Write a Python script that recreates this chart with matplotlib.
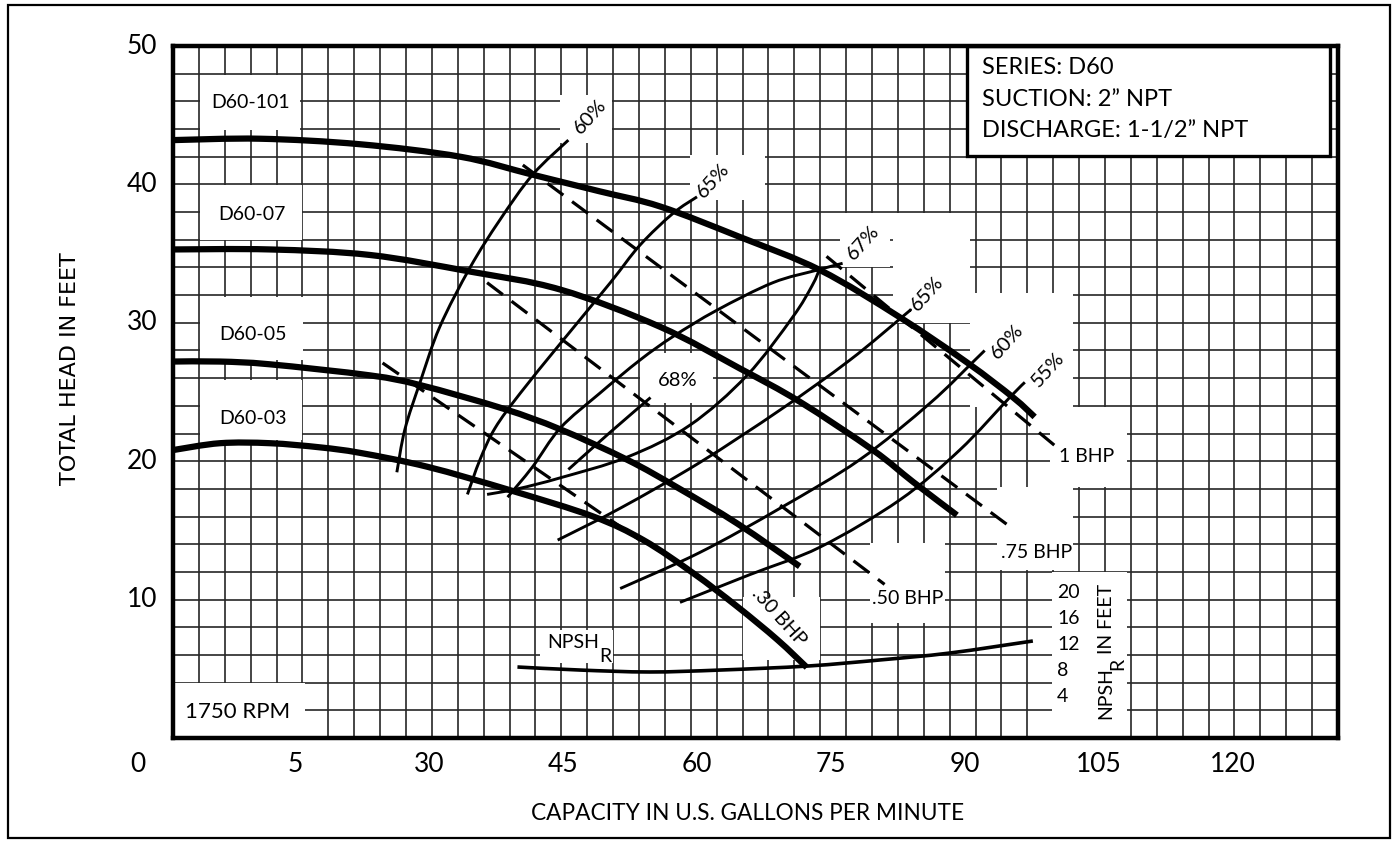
import matplotlib
matplotlib.use("Agg")
import matplotlib.pyplot as plt
from matplotlib.patches import Rectangle, PathPatch
from matplotlib.path import Path
import numpy as np

# ---------------- data (capacity in gpm, head in feet) ----------------
d60_101_q = [1.3, 11.1, 22.3, 33.5, 41.6, 49.1, 55.9, 64.8, 73.8, 82.7, 90.3, 95.4, 97.8]
d60_101_h = [43.2, 43.3, 42.9, 42.0, 40.7, 39.5, 38.4, 36.2, 33.8, 30.4, 27.1, 24.6, 23.2]

d60_07_q = [1.3, 12.2, 23.4, 34.6, 44.7, 55.9, 64.8, 71.5, 79.7, 84.2, 89.1]
d60_07_h = [35.3, 35.3, 34.9, 33.7, 32.4, 29.7, 26.7, 24.3, 20.8, 18.5, 16.1]

d60_05_q = [1.3, 6.6, 12.2, 23.4, 29.0, 38.3, 44.7, 52.2, 57.8, 64.5, 71.5]
d60_05_h = [27.2, 27.2, 27.0, 26.2, 25.5, 23.8, 22.3, 20.1, 18.1, 15.5, 12.4]

d60_03_q = [1.3, 6.6, 12.2, 17.8, 22.3, 29.8, 39.1, 48.4, 54.0, 59.6, 64.5, 69.0, 72.3]
d60_03_h = [20.8, 21.3, 21.3, 21.0, 20.6, 19.6, 17.9, 16.0, 14.3, 11.9, 9.5, 7.1, 5.1]

eff60l_q = [26.4, 27.3, 29.0, 31.2, 34.6, 37.9, 41.6, 45.6]
eff60l_h = [19.2, 22.3, 25.7, 29.7, 34.0, 37.4, 40.7, 43.2]

eff65l_q = [34.3, 35.7, 37.4, 40.2, 44.7, 50.3, 53.6, 57.3, 60.0]
eff65l_h = [17.6, 20.1, 22.4, 24.9, 28.5, 32.9, 35.6, 37.9, 39.1]

eff67a_q = [38.8, 41.6, 44.7, 49.1, 53.6, 57.3, 62.2, 68.5, 73.4, 76.3]
eff67a_h = [17.4, 19.6, 22.4, 24.9, 27.3, 29.0, 30.9, 32.9, 33.8, 34.3]

eff67b_q = [36.5, 39.9, 44.7, 52.2, 59.2, 65.6, 70.7, 72.9, 73.8]
eff67b_h = [17.6, 18.0, 18.8, 20.3, 22.6, 26.2, 30.4, 32.7, 34.0]

eff68_q = [45.6, 50.3, 54.8]
eff68_h = [19.4, 22.1, 24.6]

eff65r_q = [44.4, 51.4, 60.3, 69.3, 77.1, 83.3, 83.8]
eff65r_h = [14.3, 16.6, 19.9, 23.7, 27.3, 30.6, 30.9]

eff60r_q = [51.4, 60.3, 69.3, 78.2, 86.1, 91.1, 92.2]
eff60r_h = [10.8, 13.4, 16.6, 20.1, 24.2, 27.3, 28.0]

eff55_q = [58.1, 65.9, 73.8, 82.7, 89.4, 95.0, 96.7]
eff55_h = [9.8, 11.8, 13.8, 17.2, 20.8, 24.6, 25.7]

bhp30_q = [24.8, 53.6]
bhp30_h = [27.1, 14.3]
bhp50_q = [36.5, 81.0]
bhp50_h = [32.9, 11.1]
bhp75_q = [40.5, 95.6]
bhp75_h = [41.4, 15.0]
bhp1_q = [74.5, 100.3]
bhp1_h = [34.8, 21.0]

npsh_q = [39.9, 46.9, 54.7, 62.6, 72.4, 80.5, 88.3, 97.6]
npsh_h = [5.13, 4.91, 4.77, 4.91, 5.20, 5.64, 6.14, 7.01]

x_tick_pos = [-2.6, 15, 30, 45, 60, 75, 90, 105, 120]
x_tick_lbl = ["0", "5", "30", "45", "60", "75", "90", "105", "120"]
y_tick_pos = [50, 40, 30, 20, 10]
y_tick_lbl = ["50", "40", "30", "20", "10"]
npsh_scale_lbl = ["20", "16", "12", "8", "4"]

# ---------------- figure / axes ----------------
FONT = ["Lato", "DejaVu Sans"]
plt.rcParams["font.family"] = FONT
W, H = 1397, 844
fig = plt.figure(figsize=(W / 100, H / 100), dpi=100)
L, R, T, B = 173, 1338, 46, 738
ax = fig.add_axes([L / W, 1 - B / H, (R - L) / W, (B - T) / H])
XMIN, XMAX = 1.34, 131.76
ax.set_xlim(XMIN, XMAX)
ax.set_ylim(0, 50)
ax.set_xticks([])
ax.set_yticks([])
for s in ax.spines.values():
    s.set_linewidth(3.2)
    s.set_color("black")
    s.set_zorder(20)


def dx(p):
    return XMIN + (p - L) / (R - L) * (XMAX - XMIN)


def dy(p):
    return 50 - (p - T) / (B - T) * 50


def smooth_curve(q, h, lw, z):
    """Draw a smooth (Catmull-Rom style Bezier) curve through the read points."""
    P = np.column_stack([q, h]).astype(float)
    n = len(P)
    if n < 3:
        ax.plot(q, h, color="black", lw=lw, zorder=z)
        return
    verts = [P[0]]
    codes = [Path.MOVETO]
    for i in range(n - 1):
        p0 = P[i - 1] if i > 0 else P[i]
        p1, p2 = P[i], P[i + 1]
        p3 = P[i + 2] if i + 2 < n else P[i + 1]
        c1 = p1 + (p2 - p0) / 6.0
        c2 = p2 - (p3 - p1) / 6.0
        verts += [c1, c2, p2]
        codes += [Path.CURVE4] * 3
    ax.add_patch(PathPatch(Path(verts, codes), facecolor="none", edgecolor="black", lw=lw,
                           capstyle="butt", joinstyle="round", zorder=z))


# grid
for gx in np.linspace(XMIN, XMAX, 46)[1:-1]:
    ax.axvline(gx, color="#262626", lw=1.2, zorder=1)
for gy in np.arange(2, 50, 2):
    ax.axhline(gy, color="#262626", lw=1.2, zorder=1)

# white label patches (pixel layout)
boxes = [
    (200, 75, 300, 130), (200, 185, 302, 240), (200, 297, 303, 360), (200, 380, 302, 440),
    (173, 683, 305, 738), (560, 95, 612, 143), (690, 155, 765, 200), (840, 213, 890, 267),
    (893, 213, 970, 323), (970, 293, 1073, 407), (1050, 407, 1127, 487), (997, 487, 1073, 570),
    (870, 543, 945, 623), (743, 597, 820, 660), (540, 630, 613, 663), (640, 353, 713, 403),
    (1052, 572, 1127, 737),
]
for x0, y0, x1, y1 in boxes:
    ax.add_patch(Rectangle((dx(x0), dy(y1)), dx(x1) - dx(x0), dy(y0) - dy(y1),
                           facecolor="white", edgecolor="none", zorder=1.5))

# head curves
for q, h in [(d60_101_q, d60_101_h), (d60_07_q, d60_07_h), (d60_05_q, d60_05_h), (d60_03_q, d60_03_h)]:
    smooth_curve(q, h, 4.5, 6)

# efficiency curves
for q, h in [(eff60l_q, eff60l_h), (eff65l_q, eff65l_h), (eff67a_q, eff67a_h), (eff67b_q, eff67b_h),
             (eff68_q, eff68_h), (eff65r_q, eff65r_h), (eff60r_q, eff60r_h), (eff55_q, eff55_h)]:
    smooth_curve(q, h, 2.1, 5)

# BHP dashed lines
for q, h in [(bhp30_q, bhp30_h), (bhp50_q, bhp50_h), (bhp75_q, bhp75_h), (bhp1_q, bhp1_h)]:
    ax.plot(q, h, color="black", lw=2.3, dashes=(6.2, 3.4), zorder=5)

# NPSH
smooth_curve(npsh_q, npsh_h, 2.6, 5)

# ---------------- texts ----------------
def ptext(x, y, s, size=14, **kw):
    ax.text(dx(x), dy(y), s, fontsize=size, ha=kw.pop("ha", "center"), va=kw.pop("va", "center"),
            zorder=kw.pop("zorder", 8), clip_on=False, **kw)


ptext(251, 103, "D60-101")
ptext(252, 214, "D60-07")
ptext(253, 335, "D60-05")
ptext(253, 418, "D60-03")
ptext(185, 712, "1750 RPM", size=16, ha="left")

ptext(590, 117, "60%", size=14.5, rotation=48)
ptext(713, 181, "65%", size=14.5, rotation=48)
ptext(863, 243, "67%", size=14.5, rotation=48)
ptext(927, 294, "65%", size=14.5, rotation=48)
ptext(1007, 342, "60%", size=14.5, rotation=48)
ptext(1048, 370, "55%", size=14.5, rotation=48)
ptext(678, 380, "68%", size=14.5)

ptext(1087, 456, "1 BHP")
ptext(1037, 553, ".75 BHP")
ptext(908, 598, ".50 BHP")
ptext(779, 617, ".30 BHP", rotation=-48)

ptext(573, 643, "NPSH")
ptext(605, 657, "R")

for i, lbl in enumerate(npsh_scale_lbl):
    ptext(1057, 593 + i * 26, lbl, ha="left")
ptext(1106, 693, "NPSH", rotation=90)
ptext(1118, 664, "R", rotation=90)
ptext(1106, 619, "IN FEET", rotation=90)

# legend box
ax.add_patch(Rectangle((dx(967), dy(156)), dx(1330) - dx(967), dy(46) - dy(156),
                       facecolor="white", edgecolor="black", lw=2.4, zorder=15))
for i, s in enumerate(["SERIES: D60", "SUCTION: 2\u201d NPT", "DISCHARGE: 1-1/2\u201d NPT"]):
    ptext(982, 67 + i * 32, s, size=17, ha="left", zorder=16)

# tick labels
for p, s in zip(x_tick_pos, x_tick_lbl):
    ax.text(p, dy(765), s, fontsize=19, ha="center", va="center", clip_on=False)
for p, s in zip(y_tick_pos, y_tick_lbl):
    ax.text(dx(142), p, s, fontsize=19, ha="center", va="center", clip_on=False)

# axis titles
fig.text(748 / W, 1 - 813 / H, "CAPACITY IN U.S. GALLONS PER MINUTE", fontsize=16.3,
         ha="center", va="center")
fig.text(70 / W, 1 - 369 / H, "TOTAL HEAD IN FEET", fontsize=16, rotation=90,
         ha="center", va="center", family=["Liberation Sans Narrow", "DejaVu Sans"])

# outer frame
fig.add_artist(Rectangle((8 / W, 1 - 838 / H), (1390 - 8) / W, (838 - 5) / H,
                         transform=fig.transFigure, fill=False, lw=1.6, ec="black"))

fig.savefig("out.png", dpi=100)
